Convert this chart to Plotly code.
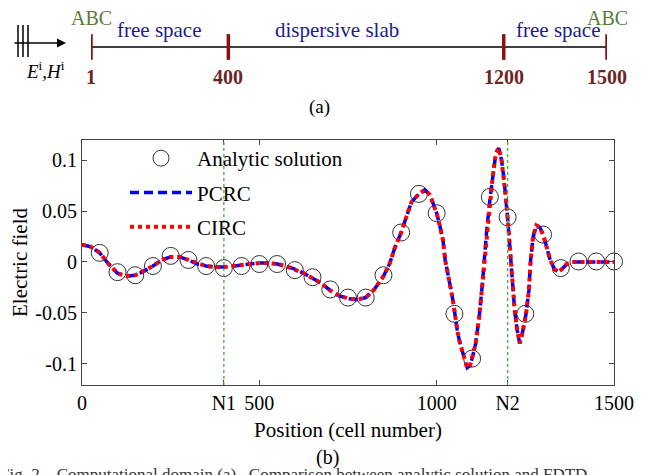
import plotly.graph_objects as go

# page is 654x475; the html body adds an 8px margin, so the figure is 646x467
OFF = 8
FW, FH = 654 - OFF, 475 - OFF
FONT = "Liberation Serif"


def px(xp):
    return (xp - OFF) / FW


def py(yp):
    return 1 - (yp - OFF) / FH


# ---------------- data ----------------
# FDTD field along the grid (PCRC and CIRC coincide)
cell_pos = [0, 25, 50, 75, 100, 125, 150, 175, 200, 225, 250, 275, 300, 325, 350, 375,
            400, 425, 450, 475, 500, 525, 550, 575, 600, 625, 650, 675, 700, 724, 750,
            776, 800, 824, 850, 867, 881, 900, 914, 929, 950, 967, 981, 1000, 1010, 1018,
            1024, 1032, 1039, 1046, 1051, 1058, 1065, 1075, 1086, 1094, 1100, 1110, 1120,
            1129, 1134, 1141, 1151, 1158, 1167, 1175, 1183, 1189, 1196, 1200, 1205, 1210,
            1215, 1220, 1227, 1234, 1240, 1248, 1252, 1260, 1265, 1272, 1281, 1291, 1300,
            1310, 1320, 1332, 1343, 1353, 1367, 1381, 1400, 1450, 1500]
e_pcrc = [0.017, 0.015, 0.009, -0.002, -0.011, -0.014, -0.013, -0.009, -0.004, 0.002,
          0.005, 0.005, 0.002, -0.002, -0.004, -0.005, -0.005, -0.004, -0.003, -0.002,
          -0.001, -0.001, -0.002, -0.004, -0.007, -0.011, -0.016, -0.021, -0.028, -0.033,
          -0.036, -0.037, -0.035, -0.027, -0.014, -0.002, 0.013, 0.029, 0.044, 0.059,
          0.067, 0.071, 0.066, 0.048, 0.034, 0.021, 0.002, -0.015, -0.025, -0.038, -0.051,
          -0.067, -0.079, -0.091, -0.104, -0.102, -0.095, -0.080, -0.054, -0.021, 0.005,
          0.031, 0.064, 0.084, 0.107, 0.112, 0.100, 0.084, 0.061, 0.044, 0.021, -0.002,
          -0.025, -0.048, -0.067, -0.080, -0.073, -0.057, -0.051, -0.028, 0.002, 0.025,
          0.036, 0.034, 0.027, 0.015, 0.002, -0.007, -0.010, -0.007, -0.002, 0.000, 0.000,
          0.000, 0.000]
e_circ = list(e_pcrc)

# analytic solution samples
ana_pos = [50, 100, 150, 200, 250, 300, 350, 400, 450, 500, 550, 600, 650, 700, 750,
           800, 850, 900, 950, 1000, 1050, 1100, 1150, 1200, 1250, 1300, 1350, 1400,
           1450, 1500]
ana_val = [0.009, -0.010, -0.013, -0.004, 0.006, 0.002, -0.004, -0.006, -0.004, -0.002,
           -0.002, -0.008, -0.015, -0.027, -0.035, -0.035, -0.013, 0.029, 0.067, 0.048,
           -0.051, -0.095, 0.064, 0.044, -0.051, 0.027, -0.006, 0.0005, 0.0005, 0.0005]

# slab boundaries
boundaries = [400, 1200]
x_tickvals = [0, 400, 500, 1000, 1200, 1500]
x_ticktext = ["0", "N1", "500", "1000", "N2", "1500"]
y_tickvals = [-0.1, -0.05, 0, 0.05, 0.1]
y_ticktext = ["-0.1", "-0.05", "0", "0.05", "0.1"]

# schematic (a)
domain_marks = [1, 400, 1200, 1500]
domain_labels = ["1", "400", "1200", "1500"]
region_names = ["free space", "dispersive slab", "free space"]
region_centers = [200, 715, 1360]

# ---------------- figure ----------------
fig = go.Figure()

fig.add_trace(go.Scatter(
    x=ana_pos, y=ana_val, mode="markers", name="Analytic solution",
    marker=dict(symbol="circle-open", size=17, color="#333333", line=dict(width=1)),
    cliponaxis=False, legendrank=1, legendgroup="a"))
fig.add_trace(go.Scatter(
    x=cell_pos, y=e_pcrc, mode="lines", name="PCRC",
    line=dict(color="#0000ff", width=3.5, dash="9px,5px"), legendrank=2, legendgroup="b"))
fig.add_trace(go.Scatter(
    x=cell_pos, y=e_circ, mode="lines", name="CIRC",
    line=dict(color="#ff0000", width=4, dash="4px,4px"), legendrank=3, legendgroup="c"))

# schematic axis line
fig.add_trace(go.Scatter(
    x=[domain_marks[0], domain_marks[-1]], y=[0, 0], mode="lines",
    line=dict(color="black", width=1.3), xaxis="x2", yaxis="y2",
    showlegend=False, hoverinfo="skip"))

shapes = []
for b in boundaries:
    shapes.append(dict(type="line", xref="x", yref="paper", x0=b, x1=b,
                       y0=py(385), y1=py(140),
                       line=dict(color="#44aa44", width=1.3, dash="dot")))
for m in domain_marks:
    shapes.append(dict(type="line", xref="x2", yref="y2", x0=m, x1=m, y0=-0.33, y1=0.33,
                       line=dict(color="#8b1010", width=3.5)))
# incident wave symbol
for xp in [18, 23, 28]:
    shapes.append(dict(type="line", xref="paper", yref="paper", x0=px(xp), x1=px(xp),
                       y0=py(57), y1=py(25), line=dict(color="black", width=1.5)))

ann = []
ann.append(dict(xref="paper", yref="paper", x=px(66), y=py(43), ax=-53, ay=0,
                text="", showarrow=True, arrowhead=2, arrowsize=1.2, arrowwidth=1.5,
                arrowcolor="black"))
ann.append(dict(xref="paper", yref="paper", x=px(45), y=py(70), showarrow=False,
                xanchor="center", yanchor="middle",
                text="<i>E</i><sup>i</sup>,<i>H</i><sup>i</sup>",
                font=dict(family=FONT, size=19, color="black")))
for m in [domain_marks[0], domain_marks[-1]]:
    ann.append(dict(xref="x2", yref="paper", x=m, y=py(18), showarrow=False, text="ABC",
                    xanchor="center", yanchor="middle",
                    font=dict(family=FONT, size=20, color="#5a7a3a")))
for m, lab in zip(domain_marks, domain_labels):
    ann.append(dict(xref="x2", yref="paper", x=m, y=py(77), showarrow=False,
                    xanchor="center", yanchor="middle",
                    text="<b>" + lab + "</b>",
                    font=dict(family=FONT, size=20, color="#6e2424")))
for c, name in zip(region_centers, region_names):
    ann.append(dict(xref="x2", yref="paper", x=c, y=py(30), showarrow=False, text=name,
                    xanchor="center", yanchor="middle",
                    font=dict(family=FONT, size=21, color="#1c1c8c")))
ann.append(dict(xref="paper", yref="paper", x=px(319), y=py(107), showarrow=False,
                xanchor="center", yanchor="middle",
                text="(a)", font=dict(family=FONT, size=19, color="black")))
ann.append(dict(xref="paper", yref="paper", x=px(327), y=py(457), showarrow=False,
                xanchor="center", yanchor="middle",
                text="(b)", font=dict(family=FONT, size=20, color="black")))
ann.append(dict(xref="paper", yref="paper", x=px(-2), y=py(474), xanchor="left",
                yanchor="middle", showarrow=False,
                text="Fig. 2.   Computational domain (a)   Comparison between analytic solution and FDTD",
                font=dict(family=FONT, size=17, color="#333333")))

axis_common = dict(showline=True, linecolor="#444444", linewidth=1, mirror="ticks",
                   ticks="inside", ticklen=5, tickcolor="#444444", showgrid=False,
                   zeroline=False, automargin=False,
                   tickfont=dict(family=FONT, size=20, color="black"))

fig.update_layout(
    width=FW, height=FH, margin=dict(l=0, r=0, t=0, b=0, autoexpand=False),
    paper_bgcolor="white", plot_bgcolor="white",
    font=dict(family=FONT, size=20, color="black"),
    xaxis=dict(domain=[px(82), px(614)], range=[0, 1500], tickvals=x_tickvals,
               ticktext=x_ticktext,
               title=dict(text="Position (cell number)", standoff=9,
                          font=dict(family=FONT, size=21)),
               anchor="y", **axis_common),
    yaxis=dict(domain=[py(385), py(140)], range=[-0.121, 0.12],
               tickvals=y_tickvals, ticktext=y_ticktext,
               title=dict(text="Electric field", standoff=24,
                          font=dict(family=FONT, size=21)),
               anchor="x", **axis_common),
    xaxis2=dict(domain=[px(91), px(607)], range=[domain_marks[0], domain_marks[-1]],
                visible=False, anchor="y2"),
    yaxis2=dict(domain=[py(86), 1], range=[-1, 1], visible=False, anchor="x2"),
    shapes=shapes, annotations=ann,
    showlegend=True,
    legend=dict(x=px(125), y=py(138), xanchor="left", yanchor="top",
                bgcolor="rgba(0,0,0,0)", borderwidth=0, tracegroupgap=4,
                itemwidth=62, font=dict(family=FONT, size=21, color="black")),
)

fig.write_html("out.html")
